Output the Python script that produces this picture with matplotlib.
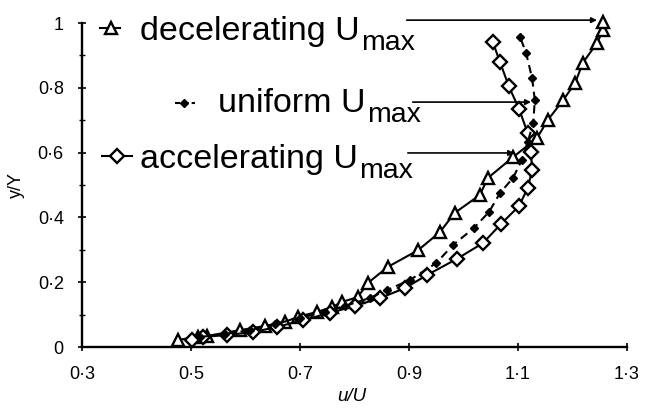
import matplotlib
matplotlib.use("Agg")
import matplotlib.pyplot as plt

plt.rcParams["font.family"] = ["Liberation Sans", "DejaVu Sans"]

# Velocity profiles u/U against y/Y
decel_u = [0.476, 0.513, 0.529, 0.590, 0.636, 0.672, 0.696, 0.731, 0.759, 0.777,
           0.806, 0.825, 0.861, 0.917, 0.957, 0.984, 1.030, 1.045, 1.091, 1.135,
           1.155, 1.183, 1.205, 1.219, 1.245, 1.256, 1.256]
decel_y = [0.022, 0.031, 0.034, 0.052, 0.065, 0.077, 0.093, 0.108, 0.123, 0.139,
           0.154, 0.198, 0.247, 0.299, 0.355, 0.414, 0.469, 0.522, 0.586, 0.645,
           0.701, 0.762, 0.815, 0.877, 0.938, 0.978, 1.003]

unif_u = [0.517, 0.562, 0.608, 0.654, 0.700, 0.746, 0.783, 0.828, 0.860, 0.902,
          0.950, 0.981, 1.019, 1.047, 1.067, 1.091, 1.107, 1.118, 1.128, 1.131,
          1.126, 1.115, 1.104]
unif_y = [0.031, 0.040, 0.052, 0.071, 0.090, 0.108, 0.127, 0.151, 0.176, 0.207,
          0.259, 0.315, 0.367, 0.417, 0.475, 0.522, 0.577, 0.633, 0.691, 0.762,
          0.830, 0.907, 0.957]

accel_u = [0.502, 0.522, 0.566, 0.614, 0.658, 0.706, 0.755, 0.801, 0.847, 0.893,
           0.933, 0.988, 1.036, 1.069, 1.102, 1.118, 1.126, 1.124, 1.118, 1.102,
           1.083, 1.067, 1.054]
accel_y = [0.022, 0.031, 0.037, 0.046, 0.062, 0.083, 0.105, 0.127, 0.151, 0.182,
           0.222, 0.272, 0.321, 0.380, 0.435, 0.491, 0.546, 0.602, 0.660, 0.735,
           0.806, 0.880, 0.941]

x_ticks = [0.3, 0.5, 0.7, 0.9, 1.1, 1.3]
x_tick_labels = ["0·3", "0·5", "0·7", "0·9", "1·1", "1·3"]
y_ticks = [0, 0.2, 0.4, 0.6, 0.8, 1.0]
y_tick_labels = ["0", "0·2", "0·4", "0·6", "0·8", "1"]

fig = plt.figure(figsize=(6.45, 4.08), dpi=100)
ax = fig.add_axes([0.127, 0.1495, 0.845, 0.794])

ax.plot(decel_u, decel_y, "-", color="black", lw=1.5, marker="^", ms=9,
        mfc="white", mec="black", mew=1.7, clip_on=False, zorder=3)
ax.plot(unif_u, unif_y, "--", color="black", lw=1.5, dashes=(4, 2.5), marker="D",
        ms=4.5, mfc="black", mec="black", clip_on=False, zorder=4)
ax.plot(accel_u, accel_y, "-", color="black", lw=1.5, marker="D", ms=7.5,
        mfc="white", mec="black", mew=1.7, clip_on=False, zorder=3)

ax.set_xlim(0.3, 1.3)
ax.set_ylim(0, 1.0)
ax.spines["top"].set_visible(False)
ax.spines["right"].set_visible(False)
for s in ("left", "bottom"):
    ax.spines[s].set_linewidth(1.7)

ax.set_xticks(x_ticks)
ax.set_xticklabels(x_tick_labels, fontsize=13)
ax.set_yticks(y_ticks)
ax.set_yticklabels(y_tick_labels, fontsize=13)
ax.set_yticks([0.1, 0.3, 0.5, 0.7, 0.9], minor=True)
ax.tick_params(axis="x", which="major", direction="inout", length=6, width=1.2, pad=11)
ax.tick_params(axis="y", which="major", direction="inout", length=6, width=1.2, pad=10)
ax.tick_params(axis="y", which="minor", direction="inout", length=4, width=1.0)

ax.set_xlabel("u/U", fontsize=13.5, style="italic")
ax.xaxis.set_label_coords(0.495, -0.128)
ax.set_ylabel("y/Y", fontsize=13)
ax.yaxis.set_label_coords(-0.105, 0.5)

# Key labels: main text plus a larger-than-usual "max" subscript
label_fs = 24.5
sub_fs = 20.5


def key_label(x, y_base, main, sub):
    t = ax.text(x, y_base, main, fontsize=label_fs, va="baseline", ha="left")
    ax.annotate(sub, xy=(1, y_base), xycoords=(t, "data"),
                xytext=(1, -10), textcoords="offset pixels",
                fontsize=sub_fs, va="baseline", ha="left",
                annotation_clip=False)


key_label(0.407, 0.948, "decelerating U", "max")
key_label(0.550, 0.725, "uniform U", "max")
key_label(0.407, 0.552, "accelerating U", "max")

# key symbols
ax.plot([0.333, 0.370], [0.985, 0.985], "-", color="black", lw=1.5, clip_on=False)
ax.plot([0.353], [0.985], marker="^", ms=8, mfc="white", mec="black", mew=1.7,
        clip_on=False)
ax.plot([0.471, 0.507], [0.753, 0.753], "--", color="black", lw=1.5,
        dashes=(2.5, 1.5), clip_on=False)
ax.plot([0.487], [0.753], marker="D", ms=4.5, color="black", clip_on=False)
ax.plot([0.337, 0.392], [0.590, 0.590], "-", color="black", lw=1.5, clip_on=False)
ax.plot([0.364], [0.590], marker="D", ms=7, mfc="white", mec="black", mew=1.7,
        clip_on=False)

# leader arrows from each key label to its profile
arrow_kw = dict(arrowstyle="-|>", color="black", lw=1.2, mutation_scale=8,
                shrinkA=0, shrinkB=0)
ax.annotate("", xy=(1.245, 1.009), xytext=(0.896, 1.009), arrowprops=arrow_kw,
            annotation_clip=False)
ax.annotate("", xy=(1.124, 0.756), xytext=(0.907, 0.756), arrowprops=arrow_kw)
ax.annotate("", xy=(1.093, 0.599), xytext=(0.898, 0.599), arrowprops=arrow_kw)

fig.savefig("out.png", dpi=100)
